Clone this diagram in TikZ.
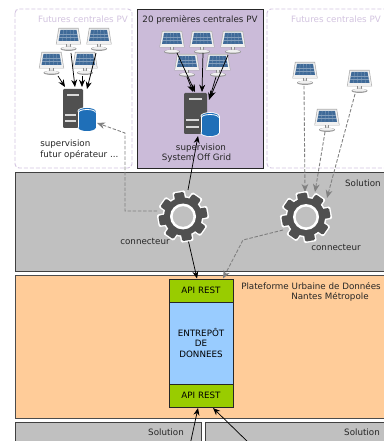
\documentclass[tikz,border=0pt]{standalone}
\usepackage{fontspec}
\setmainfont{DejaVu Sans}
\usetikzlibrary{arrows.meta}
\definecolor{bandgrey}{HTML}{C0C0C0}
\definecolor{orangebg}{HTML}{FFCC99}
\definecolor{purplebg}{HTML}{CBBBD9}
\definecolor{limebox}{HTML}{99CC00}
\definecolor{bluebox}{HTML}{99CCFF}
\definecolor{dashpurple}{HTML}{D3C4E0}
\definecolor{linegrey}{HTML}{808080}
\definecolor{icondark}{HTML}{505050}
\definecolor{panelblue}{HTML}{3F6A98}
\definecolor{dbblue}{HTML}{1F6FB8}
\tikzset{
  x=0.75pt,y=-0.75pt,
  txt/.style={font=\fontsize{6.55}{8.2}\selectfont,text=black!85,inner sep=0pt,align=center},
  soontxt/.style={font=\fontsize{6.55}{8.2}\selectfont,text=dashpurple,inner sep=0pt},
  futurebox/.style={draw=dashpurple,dash pattern=on 3pt off 1.5pt,rounded corners=3pt,line width=0.7pt,fill=white},
  band/.style={draw=black!75,fill=bandgrey,line width=0.6pt},
  solidlink/.style={draw=black,line width=0.55pt,-{Stealth[length=5.5pt,width=4.5pt]}},
  dashlink/.style={draw=linegrey,dash pattern=on 2.6pt off 1.3pt,line width=0.65pt,-{Stealth[length=6pt,width=5pt]}},
  apibox/.style={draw=black!85,fill=limebox,line width=0.7pt,minimum width=48pt,minimum height=17.2pt,inner sep=0pt,font=\fontsize{6.55}{8.2}\selectfont},
  solar/.pic={
    \fill[black!32] (-10,-12) -- (10,-12) -- (12.6,4.4) -- (-12.6,4.4) -- cycle;
    \fill[black!6] (-9.4,-11.4) -- (9.4,-11.4) -- (11.9,3.8) -- (-11.9,3.8) -- cycle;
    \fill[panelblue] (-8,-10) -- (8,-10) -- (10,1) -- (-10,1) -- cycle;
    \foreach \t in {-0.6,-0.2,0.2,0.6} \draw[white!35!panelblue,line width=0.25pt] (8*\t,-10) -- (10*\t,1);
    \foreach \v/\w in {-6.3/8.7,-2.6/9.3} \draw[white!35!panelblue,line width=0.25pt] (-\w,\v) -- (\w,\v);
    \fill[black!45] (-2.2,4.4) rectangle (2.2,7.5);
    \fill[black!10] (-1.1,4.4) rectangle (1.1,7.5);
    \fill[black!40] (0,8.8) ellipse (8 and 2.1);
    \fill[black!6] (0,8.3) ellipse (7 and 1.4);
  },
  server/.pic={
    \fill[icondark,rounded corners=0.8pt] (0,0) rectangle (20,39);
    \fill[white!85!black] (4,5) rectangle (16,7);
    \fill[white!85!black] (2,25) rectangle (13,27);
    \fill[white!85!black] (2,31) rectangle (13,33);
  },
  database/.pic={
    \fill[white] (-9.5,-8) rectangle (9.5,9);
    \fill[white] (0,-8) ellipse (9.5 and 3.8);
    \fill[white] (0,9) ellipse (9.5 and 3.8);
    \fill[dbblue] (-8.5,-8) rectangle (8.5,9);
    \fill[dbblue] (0,9) ellipse (8.5 and 3);
    \fill[dbblue] (0,-8) ellipse (8.5 and 3);
    \draw[white,line width=0.6pt] (-8.5,-6.5) arc[start angle=180,end angle=0,x radius=8.5,y radius=-3];
  },
  gear/.pic={
    \foreach \a in {0,45,...,315} \fill[white,rotate=\a+10,rounded corners=1pt] (-6.4,-25.6) rectangle (6.4,-14);
    \fill[white] (0,0) circle (20.5);
    \foreach \a in {0,45,...,315} \fill[icondark,rotate=\a+10,rounded corners=1pt] (-5,-24.2) rectangle (5,-14);
    \fill[icondark] (0,0) circle (19);
    \fill[white] (0,0) circle (13);
    \fill[bandgrey] (0,0) circle (10.3);
  }
}
\begin{document}
\begin{tikzpicture}
\useasboundingbox (0,0) rectangle (384,441);
\clip (0,0) rectangle (384,441);
\fill[white] (0,0) rectangle (384,441);

% containers
\draw[futurebox] (15,9) rectangle (132,168);
\draw[draw=black!85,fill=purplebg,line width=0.7pt] (137.5,9) rectangle (263,168);
\draw[futurebox] (267,9) rectangle (395,168);
\draw[band] (15,172.5) rectangle (395,271.5);
\draw[draw=black!70,fill=orangebg,line width=0.6pt] (15,275.5) rectangle (395,418);
\draw[band] (15,422) rectangle (201,460);
\draw[band] (205,422) rectangle (395,460);

% titles
\node[soontxt] (t1) at (83,19.5) {Futures centrales PV};
\node[txt] (t2) at (200,19.5) {20 premières centrales PV};
\node[soontxt] (t3) at (336,19.5) {Futures centrales PV};
\node[txt,anchor=east] (t4) at (381,183) {Solution};
\node[txt,anchor=east] (t5) at (381,286) {Plateforme Urbaine de Données};
\node[txt] (t6) at (330,296.5) {Nantes Métropole};
\node[txt] (t7) at (166,432) {Solution};
\node[txt] (t8) at (362,432) {Solution};
\node[txt,align=left,anchor=north west] (t9) at (40,139.5) {supervision\\futur opérateur ...};
\node[txt] (t10a) at (201,148) {supervision};
\node[txt] (t10b) at (196.5,158.5) {System Off Grid};
\node[txt] (t11) at (145,241) {connecteur};
\node[txt] (t12) at (336,247) {connecteur};

% icons
\pic at (68.5,40) {solar};
\pic at (99,40) {solar};
\pic at (51.5,64) {solar};
\pic at (85,64) {solar};
\pic at (63,89) {server};
\pic at (87,119) {database};

\pic at (172,43) {solar};
\pic at (202,43) {solar};
\pic at (233,43) {solar};
\pic at (187,66) {solar};
\pic at (218,66) {solar};
\pic[xscale=1.15,yscale=1.05] at (184,93) {server};
\pic at (210,124) {database};

\pic at (305,74) {solar};
\pic at (359.5,82) {solar};
\pic at (327,121) {solar};

% named connector ends
\coordinate (p1) at (71,53);   \coordinate (p2) at (96,53);
\coordinate (p3) at (58,76);   \coordinate (p4) at (82,76);
\coordinate (s1a) at (75,87);  \coordinate (s1b) at (87,89);
\coordinate (s1c) at (65,87);  \coordinate (s1d) at (82,87);
\coordinate (q1) at (177,53);  \coordinate (q2) at (203,53);
\coordinate (q3) at (228,55);  \coordinate (q4) at (187,77);
\coordinate (q5) at (216,77);
\coordinate (s2a) at (195,92); \coordinate (s2b) at (193,92);
\coordinate (s2c) at (202,92); \coordinate (s2d) at (209,100);
\coordinate (s2e) at (210,98); \coordinate (s2f) at (198,136);
\coordinate (r1) at (304,86);  \coordinate (r2) at (325,132);
\coordinate (r3) at (355,94);
\coordinate (g1top) at (188,190); \coordinate (g1bot) at (187,235);
\coordinate (g1lft) at (157,211); \coordinate (g1dog) at (125,211);
\coordinate (dbup) at (125,133);  \coordinate (dbtip) at (97,123);
\coordinate (g2a) at (305,192);   \coordinate (g2b) at (315,192);
\coordinate (g2c) at (327,198);   \coordinate (g2out) at (283,230);
\coordinate (g2bend) at (243,240);
\coordinate (apia) at (197,278.5);  \coordinate (apib) at (223,278.5);
\coordinate (apic) at (198,408);  \coordinate (apid) at (213,408);
\coordinate (in1) at (190,445);   \coordinate (in2) at (251,445);

% connectors under the gears
\foreach \a/\b in {p1/s1a,p2/s1b,p3/s1c,p4/s1d,q1/s2a,q4/s2b,q2/s2c,q5/s2d,q3/s2e,g1top/s2f,g1bot/apia,in1/apic,in2/apid}
  \draw[solidlink] (\a) -- (\b);
\draw[dashlink] (g1lft) -- (g1dog) -- (dbup) -- (dbtip);
\draw[dashlink] (r1) -- (g2a);
\draw[dashlink] (r2) -- (g2b);
\draw[dashlink] (r3) -- (g2c);
\draw[dashlink] (g2out) -- (g2bend) -- (apib);

% gears
\pic at (183,216.5) {gear};
\pic at (306,217) {gear};

% data warehouse
\node[draw=black!85,fill=bluebox,line width=0.7pt,minimum width=48pt,minimum height=61.5pt,inner sep=0pt,font=\fontsize{6.55}{8.2}\selectfont,align=center] (store) at (201,343) {ENTREPÔT\\DE\\DONNEES};
\node[apibox] (apitop) at (201,290.5) {API REST};
\node[apibox] (apibot) at (201,395.5) {API REST};
\end{tikzpicture}
\end{document}
